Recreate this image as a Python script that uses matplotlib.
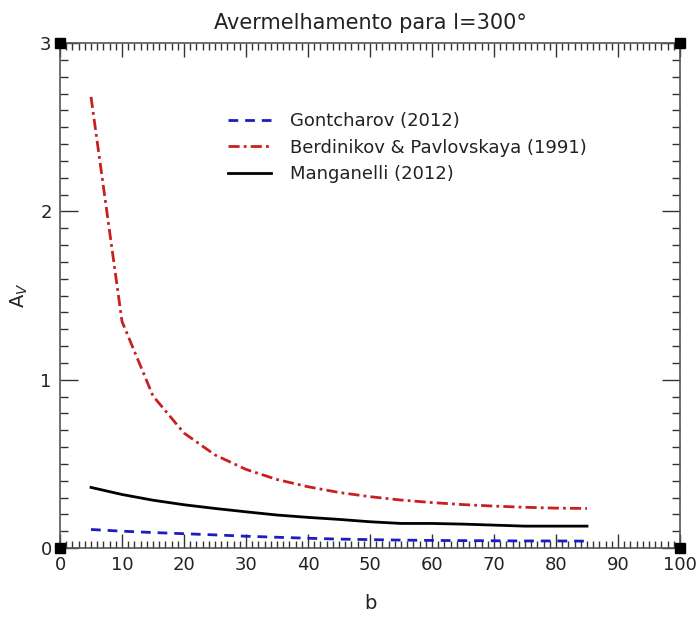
import matplotlib
matplotlib.use('Agg')
import matplotlib.pyplot as plt
from matplotlib.ticker import MultipleLocator

# galactic latitude b (deg) and extinction A_V for l = 300 deg
b = [5, 10, 15, 20, 25, 30, 35, 40, 45, 50, 55, 60, 65, 70, 75, 80, 85]
av_gontcharov = [0.110, 0.100, 0.092, 0.085, 0.078, 0.070, 0.064, 0.058, 0.053,
                 0.050, 0.047, 0.045, 0.044, 0.043, 0.042, 0.042, 0.041]
av_berdnikov = [2.68, 1.346, 0.903, 0.683, 0.553, 0.467, 0.407, 0.364, 0.330,
                0.305, 0.285, 0.270, 0.258, 0.249, 0.242, 0.237, 0.235]
av_manganelli = [0.360, 0.318, 0.284, 0.257, 0.235, 0.215, 0.196, 0.182, 0.170,
                 0.156, 0.146, 0.146, 0.142, 0.136, 0.130, 0.130, 0.130]

plt.rcParams['font.family'] = 'DejaVu Sans'

fig = plt.figure(figsize=(6.97, 6.17), dpi=100)
ax = fig.add_axes([0.0861, 0.1118, 0.8895, 0.8185])

ax.plot(b, av_gontcharov, color='#1c1cc0', lw=2, dashes=(3.5, 2.5),
        label='Gontcharov (2012)')
ax.plot(b, av_berdnikov, color='#c82020', lw=2, dashes=(4, 1.5, 1, 1.5),
        label='Berdinikov & Pavlovskaya (1991)')
ax.plot(b, av_manganelli, color='black', lw=2, label='Manganelli (2012)')

ax.set_xlim(0, 100)
ax.set_ylim(0, 3)
ax.xaxis.set_major_locator(MultipleLocator(10))
ax.xaxis.set_minor_locator(MultipleLocator(1))
ax.yaxis.set_major_locator(MultipleLocator(1))
ax.yaxis.set_minor_locator(MultipleLocator(0.1))
ax.tick_params(which='both', direction='in', top=True, right=True,
               color='#333333', labelsize=13, labelcolor='#222222')
ax.tick_params(axis='x', which='major', length=10, width=1, pad=6)
ax.tick_params(axis='x', which='minor', length=5, width=1)
ax.tick_params(axis='y', which='major', length=13, width=1, pad=6)
ax.tick_params(axis='y', which='minor', length=6, width=1)
for sp in ax.spines.values():
    sp.set_color('#555555')
    sp.set_linewidth(1.2)

# corner blocks
ax.plot([0, 100, 0, 100], [0, 0, 3, 3], 's', color='black', ms=7,
        clip_on=False, zorder=5)

ax.set_title('Avermelhamento para l=300°', fontsize=15, color='#222222', pad=10)
ax.set_xlabel('b', fontsize=14, color='#222222', labelpad=14)
ax.set_ylabel('A$_V$', fontsize=14, color='#222222', labelpad=7)

ax.legend(loc='upper left', bbox_to_anchor=(0.245, 0.895), frameon=False,
          fontsize=13, handlelength=2.4, handletextpad=1.0, labelspacing=0.47,
          labelcolor='#222222')

fig.savefig('out.png', dpi=100, facecolor='white')
